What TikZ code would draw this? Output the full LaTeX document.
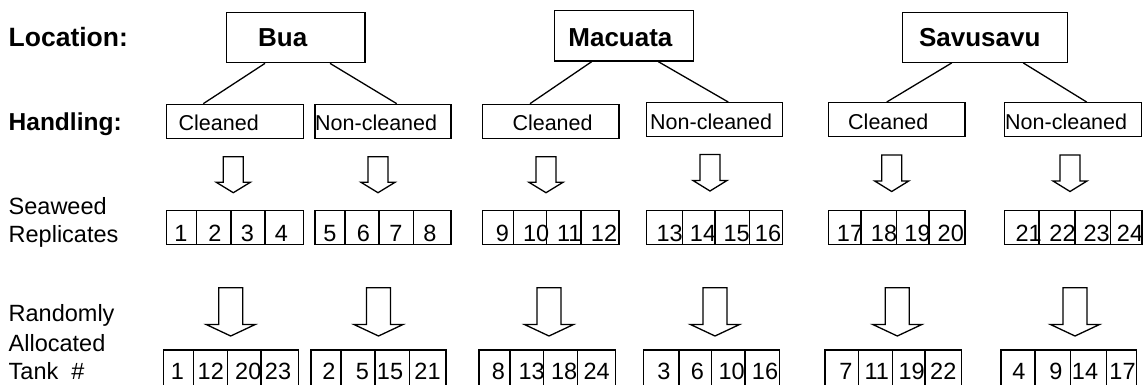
\documentclass[tikz,border=0pt]{standalone}
\usepackage{fontspec}
\setmainfont{Liberation Sans}
\newcommand{\hollowdown}[6]{% cx, top, shaft half, head half, wing y, tip y
  \draw[harrow] (#1-#3,#2) -- (#1+#3,#2) -- (#1+#3,#5) -- (#1+#4,#5) -- (#1,#6) -- (#1-#4,#5) -- (#1-#3,#5) -- cycle;}
\newcommand{\cellrow}[7]{% y1, y2, x0..x4
  \draw[ln] (#3,#1) rectangle (#7,#2) (#4,#1) -- (#4,#2) (#5,#1) -- (#5,#2) (#6,#1) -- (#6,#2);}
\begin{document}
\begin{tikzpicture}[x=1pt,y=-1pt,
  ln/.style={line width=1.3pt},
  locbox/.style={draw, line width=1.3pt, minimum height=50pt, inner sep=0pt},
  hbox/.style={draw, line width=1.3pt, minimum height=34pt, inner sep=0pt},
  boldlbl/.style={font=\fontsize{26}{30}\selectfont\bfseries, anchor=base west, inner sep=0pt},
  sidebold/.style={font=\fontsize{24.5}{30}\selectfont\bfseries, anchor=base west, inner sep=0pt},
  sidelbl/.style={font=\fontsize{23.5}{28}\selectfont, anchor=base west, inner sep=0pt},
  htext/.style={font=\fontsize{21.5}{26}\selectfont, anchor=base west, inner sep=0pt},
  num/.style={font=\fontsize{23.5}{26}\selectfont, anchor=base, inner sep=0pt},
  conn/.style={line width=1.3pt},
  harrow/.style={line width=1.3pt, line join=miter}
]
\useasboundingbox (0,0) rectangle (1145,384);
\clip (0,0) rectangle (1145,384);

% side labels
\node[sidebold, font=\fontsize{26.5}{30}\selectfont\bfseries] (lloc) at (8.5,46.7) {Location:};
\node[sidebold] (lhand) at (8.5,130) {Handling:};
\node[sidelbl] (lsea) at (8.5,214) {Seaweed};
\node[sidelbl] (lrep) at (8.5,242) {Replicates};
\node[sidelbl] (lran) at (8.5,321.7) {Randomly};
\node[sidelbl] (lall) at (8.5,351.2) {Allocated};
\node[sidelbl] (ltank) at (8.5,379) {Tank~~\#};

% location boxes
\node[locbox, minimum width=138.3pt] (bua) at (295.85,37.7) {};
\node[locbox, minimum width=139pt, minimum height=50.3pt] (mac) at (623.8,35.85) {};
\node[locbox, minimum width=164.6pt, minimum height=49.6pt] (sav) at (985,37.5) {};
\node[boldlbl] (tbua) at (258,46.7) {Bua};
\node[boldlbl] (tmac) at (568.2,46.7) {Macuata};
\node[boldlbl] (tsav) at (918.8,46.7) {Savusavu};

% handling boxes
\node[hbox, minimum width=136.6pt] (buac) at (235,121.3) {};
\node[hbox, minimum width=136pt] (buan) at (383,121.3) {};
\node[hbox, minimum width=136.7pt] (macc) at (550.65,121.3) {};
\node[hbox, minimum width=136pt] (macn) at (714.7,119.7) {};
\node[hbox, minimum width=136.7pt] (savc) at (896.65,119.7) {};
\node[hbox, minimum width=137.4pt] (savn) at (1073,119.7) {};
\node[htext] (tbuac) at (178.5,130.5) {Cleaned};
\node[htext] (tbuan) at (315,130.5) {Non-cleaned};
\node[htext] (tmacc) at (512.3,130.3) {Cleaned};
\node[htext] (tmacn) at (650,129.5) {Non-cleaned};
\node[htext] (tsavc) at (848,129.5) {Cleaned};
\node[htext] (tsavn) at (1005,129.5) {Non-cleaned};

% connectors
\draw[conn] ([xshift=-30.85pt]bua.south) -- ([xshift=-31.7pt]buac.north);
\draw[conn] ([xshift=34.15pt]bua.south) -- ([xshift=13.7pt]buan.north);
\draw[conn] ([xshift=-32.1pt]mac.south) -- ([xshift=-20.65pt]macc.north);
\draw[conn] ([xshift=34.5pt]mac.south) -- ([xshift=13.6pt]macn.north);
\draw[conn] ([xshift=-33.3pt]sav.south) -- ([xshift=-9.95pt]savc.north);
\draw[conn] ([xshift=38.3pt]sav.south) -- ([xshift=13.7pt]savn.north);

% small arrows
\hollowdown{233.3}{156.7}{10}{17}{182.3}{192.7}
\hollowdown{378}{156.7}{10}{17}{182.3}{192.7}
\hollowdown{546}{156.7}{10}{17}{182.3}{192.7}
\hollowdown{710}{154.5}{10}{17}{180.5}{191}
\hollowdown{891.7}{155}{10}{17}{181}{191.5}
\hollowdown{1070}{155}{10}{17}{181}{191.5}

% seaweed replicate cells
\cellrow{210.7}{244.5}{166.7}{196.7}{231}{265}{303.3}
\cellrow{210.7}{244.5}{315}{345}{379}{413.3}{451}
\cellrow{210.7}{244.5}{482.7}{513.3}{546.7}{581}{619}
\cellrow{210.7}{244.5}{646.7}{682.7}{715}{749.3}{782.7}
\cellrow{210.7}{244.5}{828.3}{861}{896.7}{929}{965}
\cellrow{210.7}{244.5}{1004.3}{1039}{1075}{1110.7}{1142}
\foreach \x/\t [count=\i] in {180.8/1,215/2,247.5/3,281.3/4,330/5,363.3/6,395.8/7,430/8,
  502.5/9,536.2/10,569.2/11,604/12,669.7/13,703/14,736.7/15,768/16,
  850/17,884/18,917.5/19,950.8/20,1028.7/21,1062.5/22,1096.7/23,1130/24}
  \node[num] (sw\i) at (\x,241.7) {\t};

% big arrows
\hollowdown{230.7}{287.7}{12}{24.5}{324.5}{336}
\hollowdown{378.5}{287.7}{12}{24.5}{324.5}{336}
\hollowdown{549}{287.7}{12}{24.5}{324.5}{336}
\hollowdown{715}{287.7}{12}{24.5}{324.5}{336}
\hollowdown{897.3}{287.7}{12}{24.5}{324.5}{336}
\hollowdown{1075}{287.7}{12}{24.5}{324.5}{336}

% tank cells
\cellrow{350}{396}{163.3}{193.3}{227.3}{261}{298.3}
\cellrow{350}{396}{311}{341}{375}{409.3}{446}
\cellrow{350}{396}{479}{510}{543.3}{577.3}{615.7}
\cellrow{350}{396}{643.3}{679}{711.7}{745}{779.3}
\cellrow{350}{396}{825}{858.3}{892.7}{925}{961.7}
\cellrow{350}{396}{1001}{1035}{1070.7}{1106.7}{1136.5}
\foreach \x/\t [count=\i] in {177.5/1,210.8/12,248.3/20,278/23,329/2,362.5/5,390/15,427.5/21,
  498.3/8,531.7/13,564.2/18,596.7/24,664/3,697.5/6,731.7/10,765/16,
  845.8/7,876.7/11,911.7/19,943.3/22,1019/4,1055.8/9,1085/14,1122.5/17}
  \node[num] (tk\i) at (\x,379.5) {\t};
\end{tikzpicture}
\end{document}
